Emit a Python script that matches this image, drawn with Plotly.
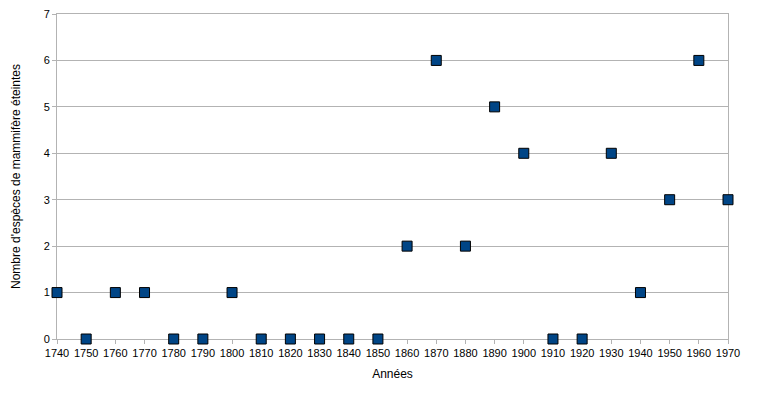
import plotly.graph_objects as go

years = [1740, 1750, 1760, 1770, 1780, 1790, 1800, 1810, 1820, 1830, 1840, 1850,
         1860, 1870, 1880, 1890, 1900, 1910, 1920, 1930, 1940, 1950, 1960, 1970]
extinct = [1, 0, 1, 1, 0, 0, 1, 0, 0, 0, 0, 0,
           2, 6, 2, 5, 4, 0, 0, 4, 1, 3, 6, 3]
x_ticks = list(range(1740, 1971, 10))
y_ticks = list(range(0, 8))

fig = go.Figure()
fig.add_trace(go.Scatter(
    x=years, y=extinct, mode="markers",
    marker=dict(symbol="square", size=10, color="#004586",
                line=dict(color="#000000", width=1)),
    cliponaxis=False, showlegend=False,
))

font = dict(family="Liberation Sans, Arial, sans-serif", size=11, color="#000000")
fig.update_layout(
    width=757, height=393,
    margin=dict(l=49, r=37, t=6, b=62, autoexpand=False),
    paper_bgcolor="white", plot_bgcolor="white",
    font=font,
    xaxis=dict(
        range=[1740, 1970], tickvals=x_ticks, ticktext=[str(v) for v in x_ticks],
        showgrid=False, zeroline=False, automargin=False, layer="below traces",
        showline=True, linecolor="#b3b3b3", linewidth=1, mirror=True,
        ticks="outside", ticklen=4, tickcolor="#b3b3b3",
        ticklabeloverflow="allow",
        title=dict(text="Années", font=dict(size=12), standoff=11),
    ),
    yaxis=dict(
        range=[0, 7], tickvals=y_ticks, automargin=False, layer="below traces",
        showgrid=True, gridcolor="#b3b3b3", gridwidth=1, zeroline=False,
        showline=True, linecolor="#b3b3b3", linewidth=1, mirror=True,
        ticks="outside", ticklen=4, tickcolor="#b3b3b3",
        ticklabeloverflow="allow",
        title=dict(text="Nombre d'espèces de mammifère éteintes", font=dict(size=12), standoff=20),
    ),
)

fig.write_html("out.html")
